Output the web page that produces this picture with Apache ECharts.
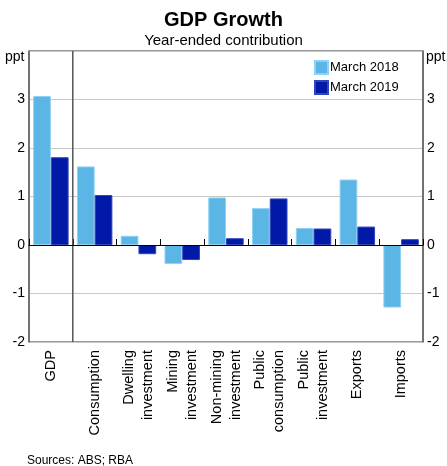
<!DOCTYPE html>
<html>
<head>
<meta charset="utf-8">
<script src="https://cdn.jsdelivr.net/npm/echarts@6/dist/echarts.min.js"></script>
<style>
  html, body { margin: 0; padding: 0; background: #fff; }
  #main { width: 447px; height: 466px; }
</style>
</head>
<body>
<div id="main"></div>
<script>
// 数据
const categories = ['GDP', 'Consumption', 'Dwelling\ninvestment', 'Mining\ninvestment',
    'Non-mining\ninvestment', 'Public\nconsumption', 'Public\ninvestment', 'Exports', 'Imports'];
const march2018 = [3.07, 1.62, 0.19, -0.39, 0.98, 0.76, 0.35, 1.35, -1.29];
const march2019 = [1.81, 1.03, -0.19, -0.31, 0.14, 0.96, 0.34, 0.38, 0.12];
const yTicks = [-2, -1, 0, 1, 2, 3, 4];
// GDP 与各组成部分之间的分隔线位置
const separator = [[1, -2], [1, 4]];

const font = 'Liberation Sans, Arial, sans-serif';

var myChart = echarts.init(document.getElementById('main'));

const yAxisBase = {
    type: 'value',
    min: yTicks[0],
    max: yTicks[yTicks.length - 1],
    interval: 1,
    axisLine: { show: true, lineStyle: { color: '#666', width: 1.5 } },
    axisTick: { show: false },
    splitLine: { show: true, lineStyle: { color: '#c8c8c8', width: 1 } },
    axisLabel: {
        color: '#000',
        fontSize: 14,
        fontFamily: font,
        margin: 4,
        formatter: v => (v === 4 ? '' : String(v))
    }
};

const titleText = (size, bold) => ({
    fontSize: size, fontWeight: bold ? 'bold' : 'normal', color: '#000', fontFamily: font
});

const option = {
    animation: false,
    title: [
        { text: 'GDP Growth', left: 'center', top: 10, padding: 0, textStyle: titleText(20, true) },
        { text: 'Year-ended contribution', left: 'center', top: 33, padding: 0, textStyle: titleText(15) },
        { text: 'ppt', left: 5, top: 50, padding: 0, textStyle: titleText(14) },
        { text: 'ppt', left: 426, top: 50, padding: 0, textStyle: titleText(14) },
        { text: 'Sources: ABS; RBA', left: 27, top: 455, padding: 0, textStyle: titleText(12) }
    ],
    legend: {
        orient: 'vertical',
        left: 314,
        top: 60,
        padding: 0,
        itemWidth: 13,
        itemHeight: 13,
        itemGap: 5,
        icon: 'rect',
        textStyle: { fontSize: 13, color: '#000', fontFamily: font, padding: [0, 0, 0, -3] },
        data: ['March 2018', 'March 2019']
    },
    grid: {
        left: 29, right: 24, top: 51, bottom: 124,
        show: true, borderColor: '#333', borderWidth: 1
    },
    xAxis: [
        {
            type: 'category',
            data: categories,
            axisLine: { show: true, lineStyle: { color: '#000', width: 1 } },
            axisTick: { show: true, inside: true, length: 6, lineStyle: { color: '#000' } },
            axisLabel: {
                rotate: 90,
                interval: 0,
                color: '#000',
                fontSize: 14.5,
                lineHeight: 19,
                fontFamily: font,
                margin: 8
            }
        },
        {
            type: 'value',
            min: 0,
            max: categories.length,
            show: false
        }
    ],
    yAxis: [
        Object.assign({}, yAxisBase, { position: 'left' }),
        Object.assign({}, yAxisBase, { position: 'right', splitLine: { show: false } })
    ],
    series: [
        {
            name: 'March 2018',
            type: 'bar',
            data: march2018,
            barGap: '0%',
            barCategoryGap: '19%',
            itemStyle: { color: '#5bb5e5', borderColor: '#8fd2f2', borderWidth: 1 },
            markLine: {
                silent: true,
                symbol: 'none',
                label: { show: false },
                lineStyle: { color: '#000', type: 'solid', width: 1 },
                data: [{ yAxis: 0 }]
            }
        },
        {
            name: 'March 2019',
            type: 'bar',
            data: march2019,
            itemStyle: { color: '#0019a6', borderColor: '#3345bb', borderWidth: 1 }
        },
        {
            name: 'separator',
            type: 'line',
            xAxisIndex: 1,
            data: separator,
            symbol: 'none',
            silent: true,
            lineStyle: { color: '#555', width: 1.5 }
        }
    ]
};

myChart.setOption(option);
</script>
</body>
</html>
